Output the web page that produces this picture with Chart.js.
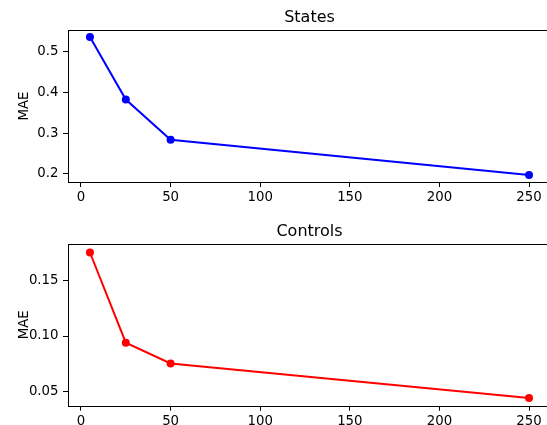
<!DOCTYPE html>
<html>
<head>
<meta charset="utf-8">
<script src="https://cdn.jsdelivr.net/npm/chart.js@4"></script>
<style>
  body { margin: 0; background: #fff; overflow: hidden; }
  .wrap { position: absolute; left: 0; width: 556px; }
</style>
</head>
<body>
<div class="wrap" style="top:0;height:205px"><canvas id="states"></canvas></div>
<div class="wrap" style="top:214px;height:211px"><canvas id="controls"></canvas></div>
<script>
const sampleSizes = [5, 25, 50, 250];
const statesMae = [0.537, 0.383, 0.284, 0.197];
const controlsMae = [0.1747, 0.094, 0.0755, 0.0446];
const xTickStep = 50;

Chart.defaults.font.family = "'DejaVu Sans', sans-serif";
Chart.defaults.color = "#000";

// matplotlib-like box around the plot area
const frame = {
  id: "frame",
  afterDraw(chart) {
    const { ctx, chartArea: a } = chart;
    ctx.save();
    ctx.strokeStyle = "#000";
    ctx.lineWidth = 1;
    ctx.strokeRect(Math.round(a.left) + 0.5, Math.round(a.top) + 0.5,
      Math.round(a.right - a.left) - 1, Math.round(a.bottom - a.top));
    ctx.restore();
  }
};

function makePlot(id, title, values, color, yMin, yMax, yStep, digits, xAxisHeight) {
  return new Chart(document.getElementById(id), {
    type: "line",
    data: {
      datasets: [{
        data: sampleSizes.map((x, i) => ({ x, y: values[i] })),
        borderColor: color,
        backgroundColor: color,
        borderWidth: 2,
        pointRadius: 4,
        pointHoverRadius: 4,
        pointBorderWidth: 0,
        tension: 0
      }]
    },
    options: {
      responsive: true,
      maintainAspectRatio: false,
      animation: false,
      events: [],
      layout: { padding: { right: 5, top: 0, left: 0, bottom: 0 } },
      plugins: {
        legend: { display: false },
        tooltip: { enabled: false },
        title: {
          display: true,
          text: title,
          fullSize: false,
          color: "#000",
          font: { size: 16, weight: "normal" },
          padding: { top: 8, bottom: 2.8 }
        }
      },
      scales: {
        x: {
          type: "linear",
          min: -7.25,
          max: 262.25,
          afterFit: s => { s.height = xAxisHeight; },
          border: { display: false },
          grid: { drawOnChartArea: false, tickLength: 5, color: "#000" },
          ticks: { stepSize: xTickStep, includeBounds: false, padding: 3, font: { size: 13.3 }, maxRotation: 0 }
        },
        y: {
          min: yMin,
          max: yMax,
          afterFit: s => { s.width = 68; },
          border: { display: false },
          grid: { drawOnChartArea: false, tickLength: 5, color: "#000" },
          title: { display: true, text: "MAE", color: "#000", font: { size: 13.3 }, padding: { top: 17, bottom: 0 } },
          ticks: {
            stepSize: yStep,
            includeBounds: false,
            padding: 4.5,
            font: { size: 13.3 },
            callback: v => Number(v).toFixed(digits)
          }
        }
      }
    },
    plugins: [frame]
  });
}

makePlot("states", "States", statesMae, "#0000ff", 0.180, 0.554, 0.1, 1, 23);
makePlot("controls", "Controls", controlsMae, "#ff0000", 0.0377, 0.1823, 0.05, 2, 19.3);
</script>
</body>
</html>
